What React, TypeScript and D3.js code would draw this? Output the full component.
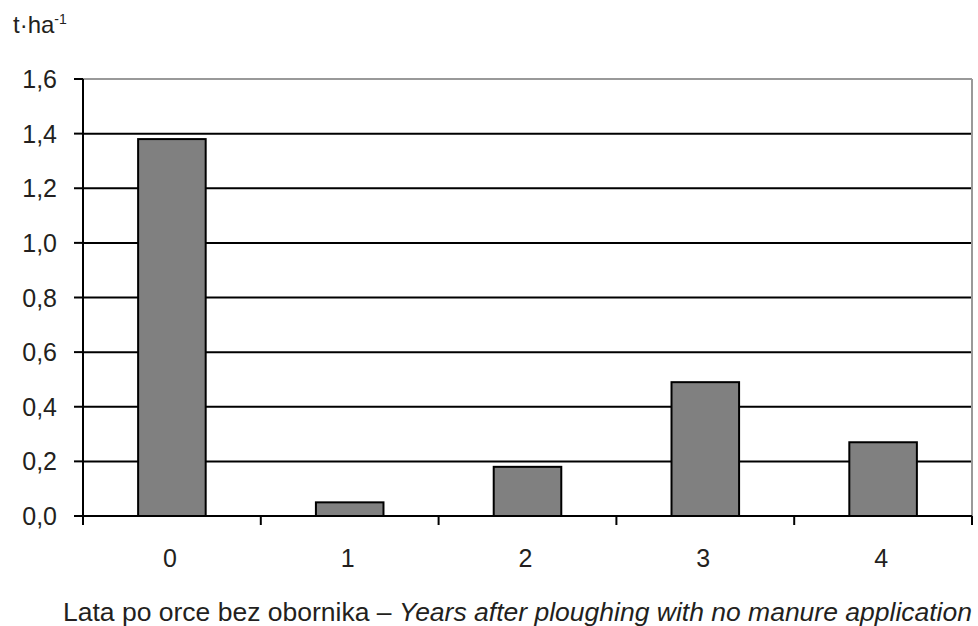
import React from "react";
import * as d3 from "d3";

const categories = ["0", "1", "2", "3", "4"];
const values = [1.38, 0.05, 0.18, 0.49, 0.27];
const yTicks = [0, 0.2, 0.4, 0.6, 0.8, 1.0, 1.2, 1.4, 1.6];

const W = 978;
const H = 626;
const left = 83;
const right = 972;
const top = 79;
const bottom = 516;
const textColor = "#231f20";
const font = "'Liberation Sans', Arial, sans-serif";

export default function App() {
  const x = d3.scaleBand<string>().domain(categories).range([left, right]).padding(0);
  const y = d3.scaleLinear().domain([0, 1.6]).range([bottom, top]);
  const barW = x.bandwidth() * 0.38;
  const fmt = (v: number) => v.toFixed(1).replace(".", ",");

  return (
    <svg
      width={W}
      height={H}
      style={{ position: "absolute", left: 0, top: 0, background: "#fff" }}
      fontFamily={font}
    >
      {/* unit label */}
      <text x={13} y={33} fontSize={24} fill={textColor}>
        t·ha
        <tspan fontSize={14} dy={-9}>-1</tspan>
      </text>

      {/* gridlines */}
      {yTicks.map((t) =>
        t === 0 ? null : (
          <line
            key={"g" + t}
            x1={left}
            x2={right}
            y1={y(t)}
            y2={y(t)}
            stroke={t === 1.6 ? "#999" : "#000"}
            strokeWidth={2}
          />
        )
      )}
      {/* right border */}
      <line x1={right} x2={right} y1={top} y2={bottom} stroke="#999" strokeWidth={2} />

      {/* bars */}
      {categories.map((c, i) => {
        const cx = (x(c) as number) + x.bandwidth() / 2;
        return (
          <rect
            key={"b" + c}
            x={cx - barW / 2}
            y={y(values[i])}
            width={barW}
            height={y(0) - y(values[i])}
            fill="#808080"
            stroke="#000"
            strokeWidth={2}
          />
        );
      })}

      {/* y axis */}
      <line x1={left} x2={left} y1={top} y2={bottom} stroke="#000" strokeWidth={2} />
      {yTicks.map((t) => (
        <g key={"t" + t}>
          <line x1={left - 9} x2={left} y1={y(t)} y2={y(t)} stroke="#000" strokeWidth={2} />
          <text
            x={57}
            y={y(t)}
            dy={9}
            textAnchor="end"
            fontSize={25}
            fill={textColor}
          >
            {fmt(t)}
          </text>
        </g>
      ))}

      {/* x axis */}
      <line x1={left} x2={right} y1={bottom} y2={bottom} stroke="#000" strokeWidth={2} />
      {[...categories.map((c) => x(c) as number), right].map((p, i) => (
        <line key={"xt" + i} x1={p} x2={p} y1={bottom} y2={bottom + 9} stroke="#000" strokeWidth={2} />
      ))}
      {categories.map((c) => (
        <text
          key={"xl" + c}
          x={(x(c) as number) + x.bandwidth() / 2 - 2}
          y={567}
          textAnchor="middle"
          fontSize={25}
          fill={textColor}
        >
          {c}
        </text>
      ))}

      {/* axis title */}
      <text x={63} y={621} fontSize={26.5} fill={textColor}>
        Lata po orce bez obornika –{" "}
        <tspan fontStyle="italic">Years after ploughing with no manure application</tspan>
      </text>
    </svg>
  );
}
